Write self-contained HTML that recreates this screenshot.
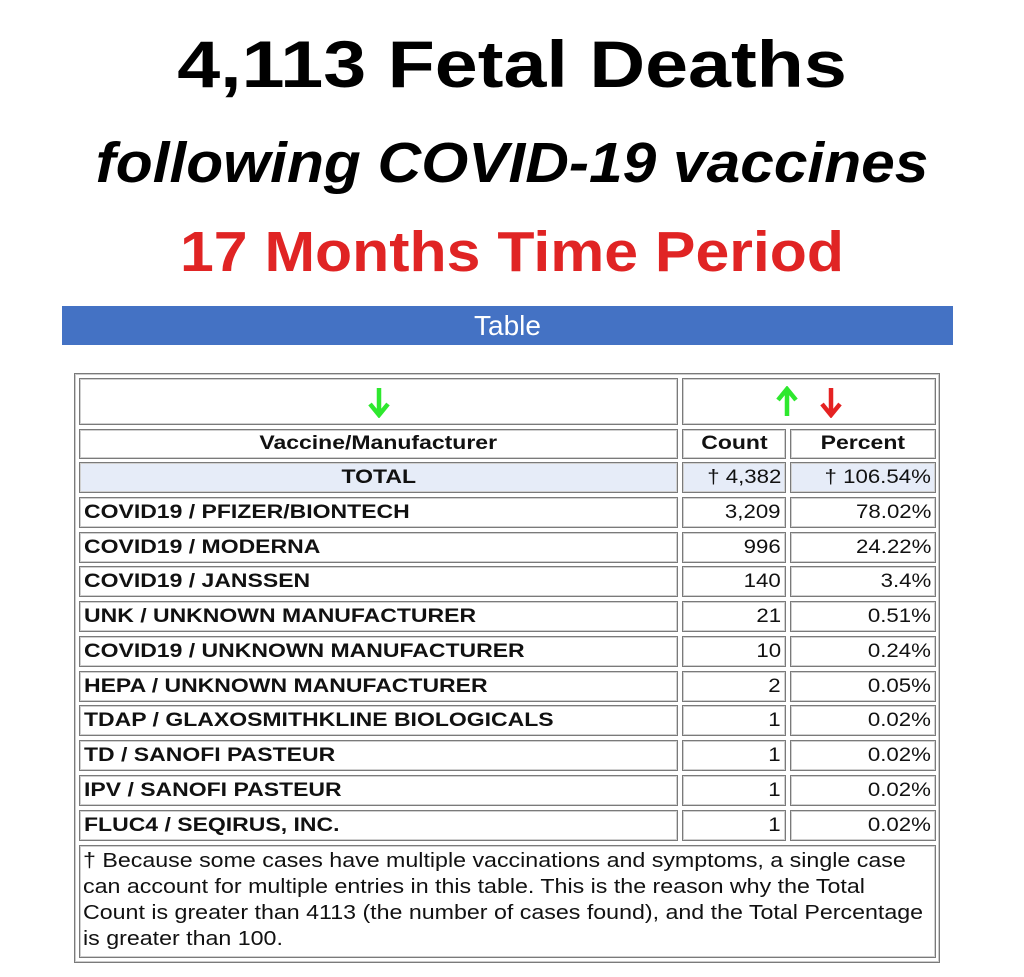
<!DOCTYPE html>
<html><head><meta charset="utf-8"><style>
body{margin:0;width:1024px;height:977px;background:#fff;position:relative;font-family:"Liberation Sans",Arial,sans-serif;overflow:hidden}
.t{position:absolute;left:0;width:1024px;text-align:center;font-weight:bold;white-space:nowrap;transform-origin:512px 50%}
.c{position:absolute;box-sizing:border-box;border:1px solid #7a7a7a;box-shadow:inset 0 0 0 1px #d0d0d0;font-size:19px;color:#111;white-space:nowrap;display:flex;align-items:center}
.c span{display:inline-block;transform:scaleX(1.17)}
.b span{transform:scaleX(1.21)}
.b{font-weight:bold}
.l{padding-left:4px}.l span{transform-origin:left center}
.r{justify-content:flex-end;padding-right:4px}.r span{transform-origin:right center}
.m{justify-content:center}
.tot{background:#e6ecf8}
.fn div{transform:scaleX(1.16);transform-origin:left center;white-space:nowrap}
</style></head><body>
<div class="t" style="top:26px;font-size:66px;color:#000;transform:scaleX(1.17)">4,113 Fetal Deaths</div>
<div class="t" style="top:130px;font-size:57px;font-style:italic;transform:scaleX(1.06)">following COVID-19 vaccines</div>
<div class="t" style="top:219px;font-size:57px;color:#e02424;transform:scaleX(1.066)">17 Months Time Period</div>
<div style="position:absolute;left:62px;top:306px;width:891px;height:39px;background:#4472c4;color:#fff;font-size:28px;text-align:center;line-height:39px">Table</div>
<div style="position:absolute;left:74px;top:373px;width:866px;height:590px;box-sizing:border-box;border:1px solid #7a7a7a;box-shadow:inset 0 0 0 1px #ccc"></div>

<div class="c m" style="left:79px;top:378px;width:599px;height:47px">
<svg width="22" height="32" viewBox="0 0 22 32"><path d="M11 2V28M2 18L11 29L20 18" stroke="#2ee82e" stroke-width="4.5" fill="none"/></svg></div>
<div class="c m" style="left:682px;top:378px;width:254px;height:47px;gap:22px">
<svg width="22" height="32" viewBox="0 0 22 32"><path d="M11 30V4M2 14L11 3L20 14" stroke="#2ee82e" stroke-width="4.5" fill="none"/></svg>
<svg width="22" height="32" viewBox="0 0 22 32"><path d="M11 2V28M2 18L11 29L20 18" stroke="#e52222" stroke-width="4.5" fill="none"/></svg></div>

<div class="c m b" style="left:79px;top:429px;width:599px;height:30px"><span>Vaccine/Manufacturer</span></div>
<div class="c m b" style="left:682px;top:429px;width:104px;height:30px"><span>Count</span></div>
<div class="c m b" style="left:790px;top:429px;width:146px;height:30px"><span>Percent</span></div>

<div class="c m b tot" style="left:79px;top:462px;width:599px;height:31px"><span>TOTAL</span></div>
<div class="c r tot" style="left:682px;top:462px;width:104px;height:31px"><span>† 4,382</span></div>
<div class="c r tot" style="left:790px;top:462px;width:146px;height:31px"><span>† 106.54%</span></div>

<div class="c l b" style="left:79px;top:497px;width:599px;height:31px"><span>COVID19 / PFIZER/BIONTECH</span></div><div class="c r" style="left:682px;top:497px;width:104px;height:31px"><span>3,209</span></div><div class="c r" style="left:790px;top:497px;width:146px;height:31px"><span>78.02%</span></div>
<div class="c l b" style="left:79px;top:532px;width:599px;height:31px"><span>COVID19 / MODERNA</span></div><div class="c r" style="left:682px;top:532px;width:104px;height:31px"><span>996</span></div><div class="c r" style="left:790px;top:532px;width:146px;height:31px"><span>24.22%</span></div>
<div class="c l b" style="left:79px;top:566px;width:599px;height:31px"><span>COVID19 / JANSSEN</span></div><div class="c r" style="left:682px;top:566px;width:104px;height:31px"><span>140</span></div><div class="c r" style="left:790px;top:566px;width:146px;height:31px"><span>3.4%</span></div>
<div class="c l b" style="left:79px;top:601px;width:599px;height:31px"><span>UNK / UNKNOWN MANUFACTURER</span></div><div class="c r" style="left:682px;top:601px;width:104px;height:31px"><span>21</span></div><div class="c r" style="left:790px;top:601px;width:146px;height:31px"><span>0.51%</span></div>
<div class="c l b" style="left:79px;top:636px;width:599px;height:31px"><span>COVID19 / UNKNOWN MANUFACTURER</span></div><div class="c r" style="left:682px;top:636px;width:104px;height:31px"><span>10</span></div><div class="c r" style="left:790px;top:636px;width:146px;height:31px"><span>0.24%</span></div>
<div class="c l b" style="left:79px;top:671px;width:599px;height:31px"><span>HEPA / UNKNOWN MANUFACTURER</span></div><div class="c r" style="left:682px;top:671px;width:104px;height:31px"><span>2</span></div><div class="c r" style="left:790px;top:671px;width:146px;height:31px"><span>0.05%</span></div>
<div class="c l b" style="left:79px;top:705px;width:599px;height:31px"><span>TDAP / GLAXOSMITHKLINE BIOLOGICALS</span></div><div class="c r" style="left:682px;top:705px;width:104px;height:31px"><span>1</span></div><div class="c r" style="left:790px;top:705px;width:146px;height:31px"><span>0.02%</span></div>
<div class="c l b" style="left:79px;top:740px;width:599px;height:31px"><span>TD / SANOFI PASTEUR</span></div><div class="c r" style="left:682px;top:740px;width:104px;height:31px"><span>1</span></div><div class="c r" style="left:790px;top:740px;width:146px;height:31px"><span>0.02%</span></div>
<div class="c l b" style="left:79px;top:775px;width:599px;height:31px"><span>IPV / SANOFI PASTEUR</span></div><div class="c r" style="left:682px;top:775px;width:104px;height:31px"><span>1</span></div><div class="c r" style="left:790px;top:775px;width:146px;height:31px"><span>0.02%</span></div>
<div class="c l b" style="left:79px;top:810px;width:599px;height:31px"><span>FLUC4 / SEQIRUS, INC.</span></div><div class="c r" style="left:682px;top:810px;width:104px;height:31px"><span>1</span></div><div class="c r" style="left:790px;top:810px;width:146px;height:31px"><span>0.02%</span></div>

<div class="c fn" style="left:79px;top:845px;width:857px;height:113px;display:block;padding:2px 0 0 3px;font-size:20px;line-height:26px">
<div>† Because some cases have multiple vaccinations and symptoms, a single case</div>
<div>can account for multiple entries in this table. This is the reason why the Total</div>
<div>Count is greater than 4113 (the number of cases found), and the Total Percentage</div>
<div>is greater than 100.</div>
</div>
</body></html>
